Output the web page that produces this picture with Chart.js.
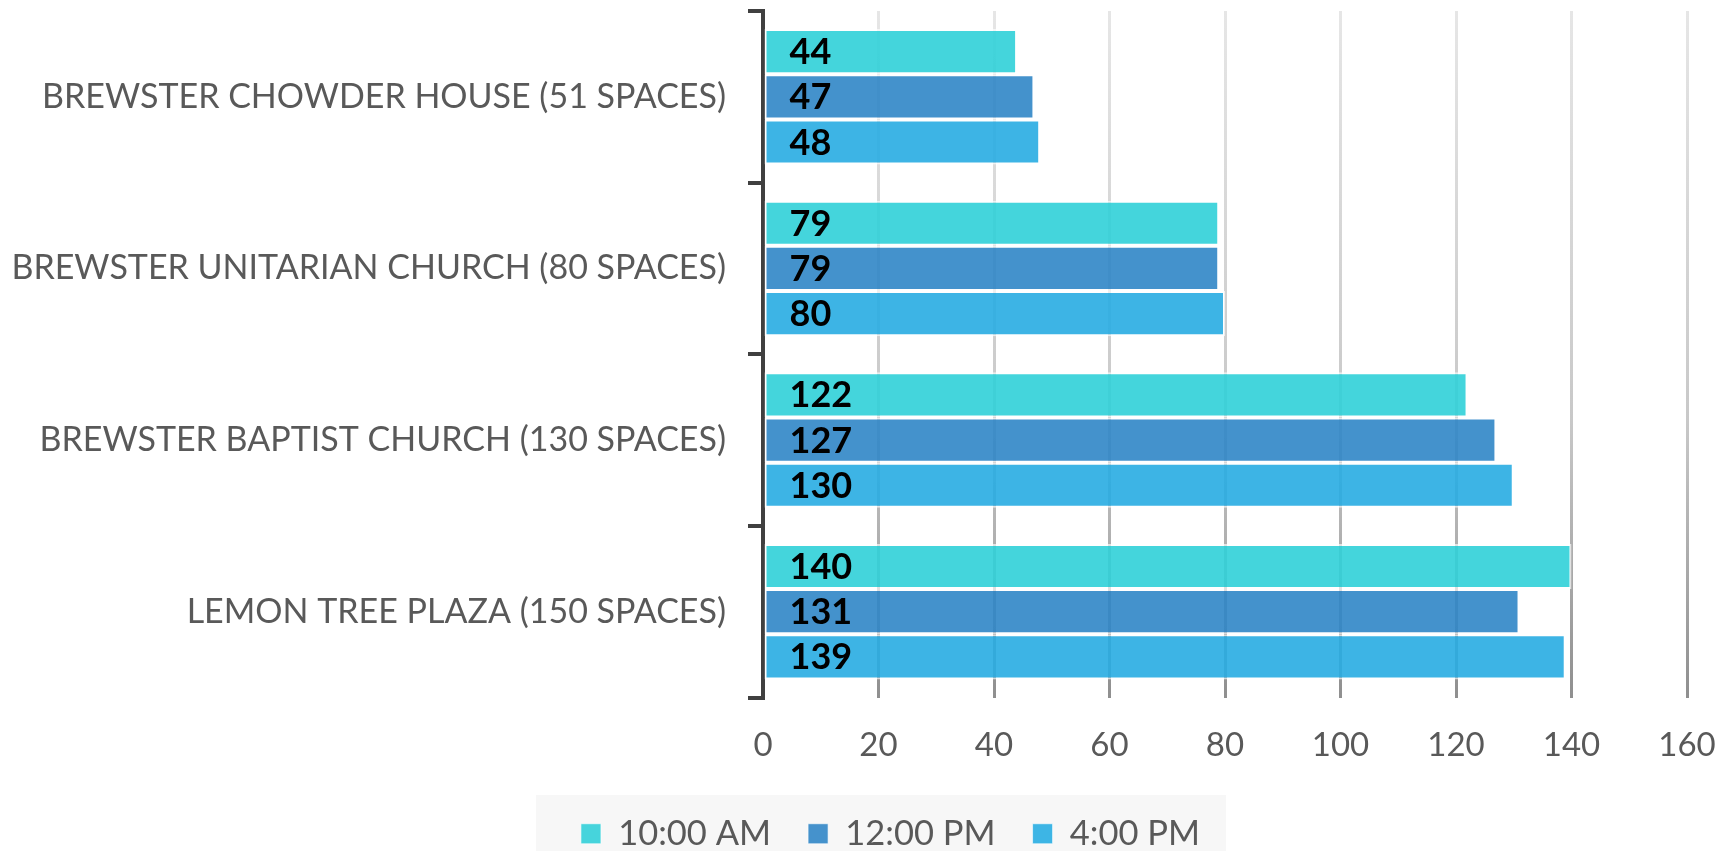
<!DOCTYPE html>
<html>
<head>
<meta charset="utf-8">
<script src="https://cdn.jsdelivr.net/npm/chart.js@4/dist/chart.umd.min.js"></script>
<style>
  html, body { margin: 0; padding: 0; background: #ffffff; }
  #wrap { width: 1724px; height: 851px; position: relative; }
</style>
</head>
<body>
<div id="wrap"><canvas id="c" width="1724" height="851"></canvas></div>
<script>
const categories = [
  'BREWSTER CHOWDER HOUSE (51 SPACES)',
  'BREWSTER UNITARIAN CHURCH (80 SPACES)',
  'BREWSTER BAPTIST CHURCH (130 SPACES)',
  'LEMON TREE PLAZA (150 SPACES)'
];
const seriesNames = ['10:00 AM', '12:00 PM', '4:00 PM'];
const values10am = [44, 79, 122, 140];
const values12pm = [47, 79, 127, 131];
const values4pm  = [48, 80, 130, 139];
const xTicks = [0, 20, 40, 60, 80, 100, 120, 140, 160];

const colors = ['rgba(48,208,216,0.9)', 'rgba(48,134,199,0.9)', 'rgba(40,172,226,0.9)'];
const legendColors = ['#46d4dc', '#4592cc', '#3db5e5'];

const FONT = 'Lato';

const valueLabels = {
  id: 'valueLabels',
  afterDatasetsDraw(chart) {
    const ctx = chart.ctx;
    ctx.save();
    ctx.font = 'bold 36px ' + FONT;
    ctx.fillStyle = '#000000';
    ctx.textAlign = 'left';
    ctx.textBaseline = 'middle';
    chart.data.datasets.forEach((ds, di) => {
      const meta = chart.getDatasetMeta(di);
      meta.data.forEach((bar, i) => {
        ctx.fillText(String(ds.data[i]), bar.base + 25, bar.y + 1);
      });
    });
    ctx.restore();
  }
};

const legendPlace = {
  id: 'legendPlace',
  afterLayout(chart) {
    const lg = chart.legend;
    if (lg) { lg.left = 94; }
  },
  beforeDraw(chart) {
    const lg = chart.legend;
    if (!lg || !lg.legendHitBoxes || !lg.legendHitBoxes.length) return;
    const hb = lg.legendHitBoxes;
    const first = hb[0], last = hb[hb.length - 1];
    const ctx = chart.ctx;
    ctx.save();
    ctx.fillStyle = '#f7f7f7';
    const left = first.left - 45;
    const right = last.left + last.width + 26;
    ctx.fillRect(left, 795, right - left, 851 - 795);
    ctx.restore();
  }
};

const data = {
  labels: categories,
  datasets: seriesNames.map((name, k) => ({
    label: name,
    data: [values10am, values12pm, values4pm][k],
    backgroundColor: colors[k],
    borderColor: 'rgba(255,255,255,0.65)',
    borderWidth: 2,
    borderSkipped: false,
    categoryPercentage: 0.79,
    barPercentage: 1.0
  }))
};

new Chart(document.getElementById('c'), {
  type: 'bar',
  data,
  options: {
    indexAxis: 'y',
    responsive: false,
    animation: false,
    devicePixelRatio: 1,
    layout: { padding: { top: 11, right: 37, left: 0, bottom: -10 } },
    scales: {
      x: {
        min: 0,
        max: 160,
        afterBuildTicks(scale) { scale.ticks = xTicks.map(v => ({ value: v })); },
        afterFit(scale) { scale.height = 82; scale.paddingLeft = 0; scale.paddingRight = 0; },
        border: { display: false },
        grid: {
          drawTicks: false,
          lineWidth: 3,
          color(ctx) {
            const ca = ctx.chart.chartArea;
            if (!ca) return '#cccccc';
            const g = ctx.chart.ctx.createLinearGradient(0, ca.top, 0, ca.bottom);
            g.addColorStop(0, '#e6e6e6');
            g.addColorStop(0.6, '#c8c8c8');
            g.addColorStop(1, '#8f8f8f');
            return g;
          }
        },
        ticks: {
          padding: 28,
          color: '#595959',
          font: { family: FONT, size: 33 }
        }
      },
      y: {
        afterFit(scale) { scale.width = 763; scale.paddingTop = 0; scale.paddingBottom = 0; },
        border: { display: true, color: '#404040', width: 4 },
        grid: {
          drawOnChartArea: false,
          drawTicks: true,
          tickLength: 15,
          offset: true,
          color: '#404040',
          lineWidth: 4
        },
        ticks: {
          padding: 22,
          color: '#595959',
          font: { family: FONT, size: 34 }
        }
      }
    },
    plugins: {
      legend: {
        position: 'bottom',
        labels: {
          color: '#595959',
          font: { family: FONT, size: 34.5 },
          boxWidth: 20,
          boxHeight: 20,
          padding: 37,
          generateLabels(chart) {
            return chart.data.datasets.map((ds, i) => ({
              text: ds.label,
              fillStyle: legendColors[i],
              strokeStyle: 'rgba(255,255,255,0.6)',
              lineWidth: 1,
              hidden: false,
              datasetIndex: i,
              fontColor: '#595959'
            }));
          }
        }
      },
      tooltip: { enabled: false }
    }
  },
  plugins: [valueLabels, legendPlace]
});
</script>
</body>
</html>
